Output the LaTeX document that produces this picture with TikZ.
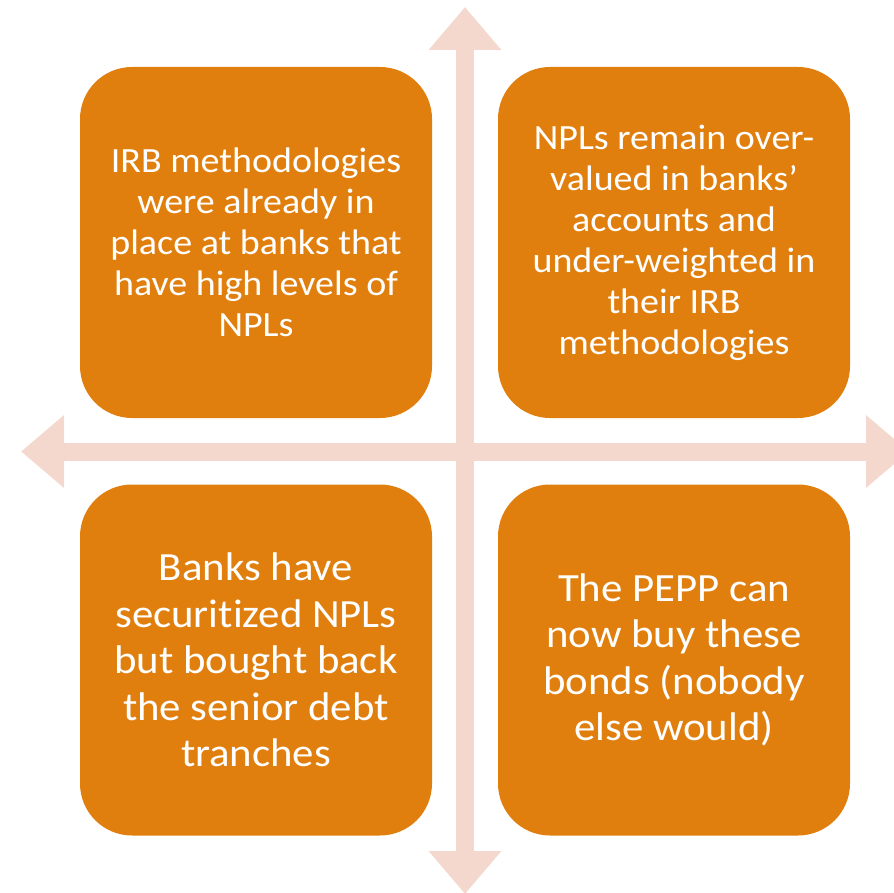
\documentclass[tikz,border=0pt]{standalone}
\usepackage{fontspec}
\setmainfont{Carlito}[Ligatures=NoCommon, FakeStretch=1.07]
\usetikzlibrary{arrows.meta}
\definecolor{ORANGE}{HTML}{E07F0E}
\definecolor{PEACH}{HTML}{F4D8CD}
\tikzset{
    quad/.style={fill=ORANGE, text=white, rounded corners=52pt, minimum width=352pt, minimum height=351pt, align=center, inner sep=0pt},
    small/.style={font=\fontsize{35.5}{41}\selectfont},
    large/.style={font=\fontsize{40}{46.5}\selectfont},
    axis/.style={PEACH, line width=18pt, {Triangle[length=43pt,width=70pt]}-{Triangle[length=43pt,width=70pt]}}
}

\begin{document}
\begin{tikzpicture}[x=1pt, y=-1pt]
    \useasboundingbox (0,0) rectangle (894,893);
    \clip (0,0) rectangle (894,893);
    % Axes
    \coordinate (top) at (465,7);
    \coordinate (bottom) at (465,894);
    \coordinate (left) at (21,451.5);
    \coordinate (right) at (909,451.5);
    \draw[axis] (bottom) -- (top);
    \draw[axis] (left) -- (right);
    % Quadrants
    \node[quad, small] (irb) at (256,242.5) {IRB methodologies\\were already in\\place at banks that\\have high levels of\\NPLs};
    \node[quad, small] (overvalued) at (674,242.5) {NPLs remain over-\\valued in banks’\\accounts and\\under-weighted in\\their IRB\\methodologies};
    \node[quad, large] (securitized) at (256,660) {Banks have\\securitized NPLs\\but bought back\\the senior debt\\tranches};
    \node[quad, large] (pepp) at (674,660) {The PEPP can\\now buy these\\bonds (nobody\\else would)};
\end{tikzpicture}
\end{document}
